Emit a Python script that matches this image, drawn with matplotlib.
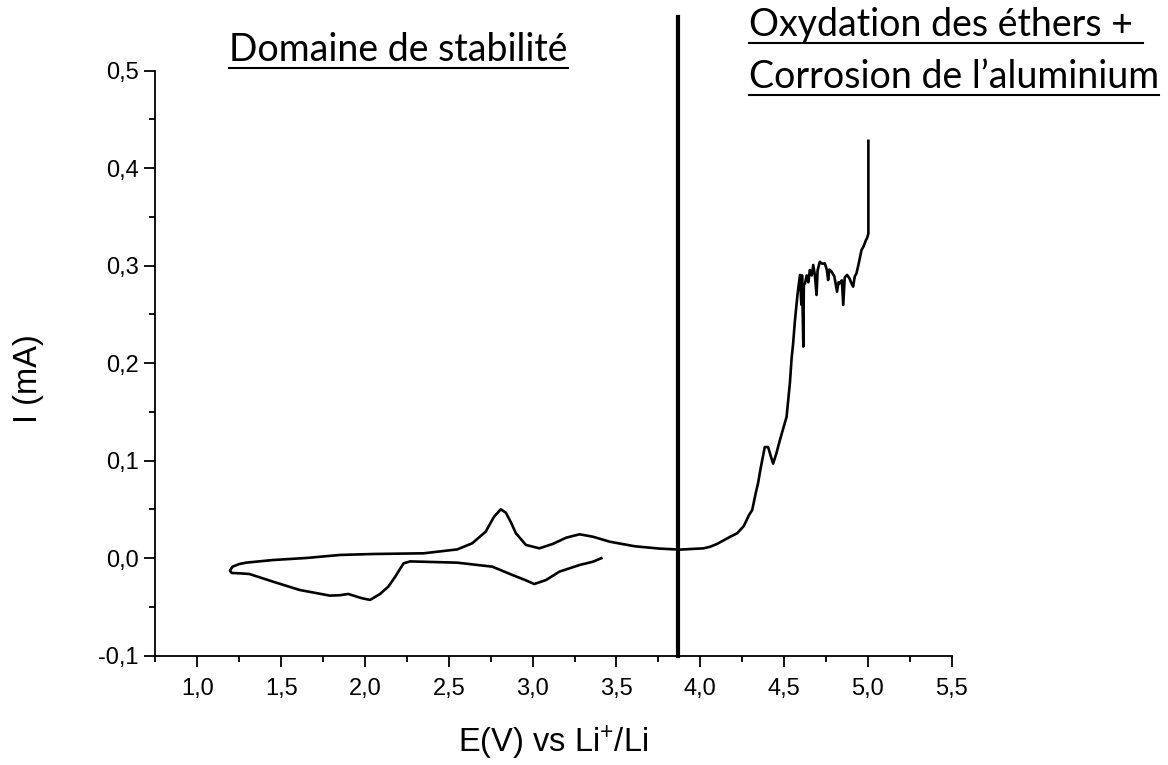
import matplotlib
matplotlib.use("Agg")
import matplotlib.pyplot as plt
from matplotlib.lines import Line2D
from matplotlib.ticker import MultipleLocator, FuncFormatter

plt.rcParams["font.family"] = ["Liberation Sans", "DejaVu Sans"]
plt.rcParams["mathtext.fontset"] = "custom"
plt.rcParams["mathtext.rm"] = "Liberation Sans"
plt.rcParams["mathtext.default"] = "regular"

# reduction sweep: from the rest potential down to 1.2 V
E_down = [3.41, 3.36, 3.28, 3.16, 3.08, 3.01, 2.95, 2.88, 2.76, 2.55, 2.27, 2.23,
          2.18, 2.14, 2.09, 2.03, 1.98, 1.95, 1.90, 1.85, 1.79, 1.61, 1.45, 1.31,
          1.25, 1.205, 1.195]
I_down = [0.0, -0.0036, -0.0070, -0.0138, -0.0224, -0.0265, -0.0220, -0.0173,
          -0.0087, -0.0046, -0.0033, -0.0053, -0.0190, -0.0290, -0.0367, -0.0428,
          -0.0410, -0.0394, -0.0367, -0.0380, -0.0384, -0.0326, -0.0240, -0.0162,
          -0.0155, -0.0152, -0.0130]

# oxidation sweep: from 1.2 V up to 5.0 V
E_up = [1.195, 1.21, 1.25, 1.29, 1.45, 1.65, 1.85, 2.05, 2.35, 2.55, 2.64, 2.72,
        2.77, 2.81, 2.84, 2.87, 2.90, 2.96, 3.04, 3.12, 3.20, 3.28, 3.36, 3.46,
        3.61, 3.76, 3.88, 4.02, 4.06, 4.10, 4.18, 4.22, 4.26, 4.29, 4.31, 4.33,
        4.345, 4.36, 4.385, 4.405, 4.42, 4.435, 4.455, 4.475, 4.515, 4.535, 4.545,
        4.554, 4.565, 4.58, 4.595, 4.603, 4.607, 4.612, 4.615, 4.618, 4.625, 4.635,
        4.645, 4.654, 4.665, 4.674, 4.684, 4.694, 4.700, 4.713, 4.728, 4.743, 4.755,
        4.763, 4.770, 4.783, 4.800, 4.816, 4.825, 4.833, 4.845, 4.853, 4.862, 4.876,
        4.890, 4.902, 4.912, 4.922, 4.932, 4.945, 4.962, 4.975, 4.988, 4.997, 5.003,
        5.003]
I_up = [-0.0125, -0.0087, -0.0060, -0.0046, -0.0019, 0.0002, 0.0033, 0.0043, 0.0050,
        0.0090, 0.0153, 0.0272, 0.0426, 0.0501, 0.0467, 0.0370, 0.0256, 0.0136,
        0.0101, 0.0146, 0.0210, 0.0245, 0.0220, 0.0169, 0.0122, 0.0098, 0.0088,
        0.0101, 0.0118, 0.0146, 0.0221, 0.0255, 0.0330, 0.0440, 0.0494, 0.0660,
        0.0770, 0.0920, 0.1140, 0.1140, 0.1050, 0.0970, 0.1080, 0.1210, 0.1450,
        0.1800, 0.2050, 0.2200, 0.2440, 0.2700, 0.2905, 0.2600, 0.2900, 0.2450,
        0.2170, 0.2800, 0.2820, 0.2900, 0.2830, 0.2956, 0.2900, 0.3007, 0.2900,
        0.2700, 0.2950, 0.3040, 0.3020, 0.3024, 0.2960, 0.2853, 0.2960, 0.2940,
        0.2890, 0.2734, 0.2830, 0.2820, 0.2850, 0.2597, 0.2880, 0.2905, 0.2870,
        0.2820, 0.2785, 0.2890, 0.2922, 0.3020, 0.3160, 0.3200, 0.3260, 0.3290,
        0.3330, 0.4280]

E_limit = 3.865  # stability limit
x_ticks = [1.0, 1.5, 2.0, 2.5, 3.0, 3.5, 4.0, 4.5, 5.0, 5.5]
y_ticks = [-0.1, 0.0, 0.1, 0.2, 0.3, 0.4, 0.5]

fig = plt.figure(figsize=(11.68, 7.65), dpi=100)
ax = fig.add_axes([0.1331, 0.1429, 0.6817, 0.7647])

ax.plot(E_down + E_up, I_down + I_up, color="black", lw=1.9, solid_joinstyle="round")
ax.plot([E_limit, E_limit], [-0.1, 0.555], color="black", lw=3, clip_on=False)

ax.set_xlim(0.75, 5.5)
ax.set_ylim(-0.1, 0.5)
ax.set_xticks(x_ticks)
ax.set_yticks(y_ticks)
ax.xaxis.set_minor_locator(MultipleLocator(0.25))
ax.yaxis.set_minor_locator(MultipleLocator(0.05))
comma = FuncFormatter(lambda v, pos: f"{v:.1f}".replace(".", ",").replace("-0,0", "0,0"))
ax.xaxis.set_major_formatter(comma)
ax.yaxis.set_major_formatter(comma)

for side in ["top", "right"]:
    ax.spines[side].set_visible(False)
for side in ["left", "bottom"]:
    ax.spines[side].set_linewidth(1.3)
ax.tick_params(which="major", direction="out", length=8, width=1.3, labelsize=17)
ax.tick_params(which="minor", direction="out", length=4, width=1.3)
ax.tick_params(axis="x", which="major", pad=8)
ax.tick_params(axis="y", which="major", pad=4)

ax.set_xlabel("E(V) vs Li$^{+}$/Li", fontsize=23.5)
ax.set_ylabel("I (mA)", fontsize=23.5)
ax.xaxis.label.set_va("center")
ax.yaxis.label.set_va("center")
ax.xaxis.set_label_coords(0.5, -0.149)
ax.yaxis.set_label_coords(-0.160, 0.473)

# underlined region captions
captions = [
    ("Domaine de stabilité", 229, 61),
    ("Oxydation des éthers + ", 749, 36),
    ("Corrosion de l\u2019aluminium", 749, 88),
]
W, H = fig.get_size_inches() * fig.dpi
texts = []
for label, px, py in captions:
    t = fig.text(px / W, 1 - py / H, label, family="Lato", fontsize=27,
                 ha="left", va="baseline")
    texts.append((t, py))

fig.canvas.draw()
renderer = fig.canvas.get_renderer()
for t, py in texts:
    bb = t.get_window_extent(renderer)
    yl = 1 - (py + 7) / H
    fig.add_artist(Line2D([bb.x0 / W, bb.x1 / W], [yl, yl], color="black", lw=1.5))

fig.savefig("out.png", dpi=100)
